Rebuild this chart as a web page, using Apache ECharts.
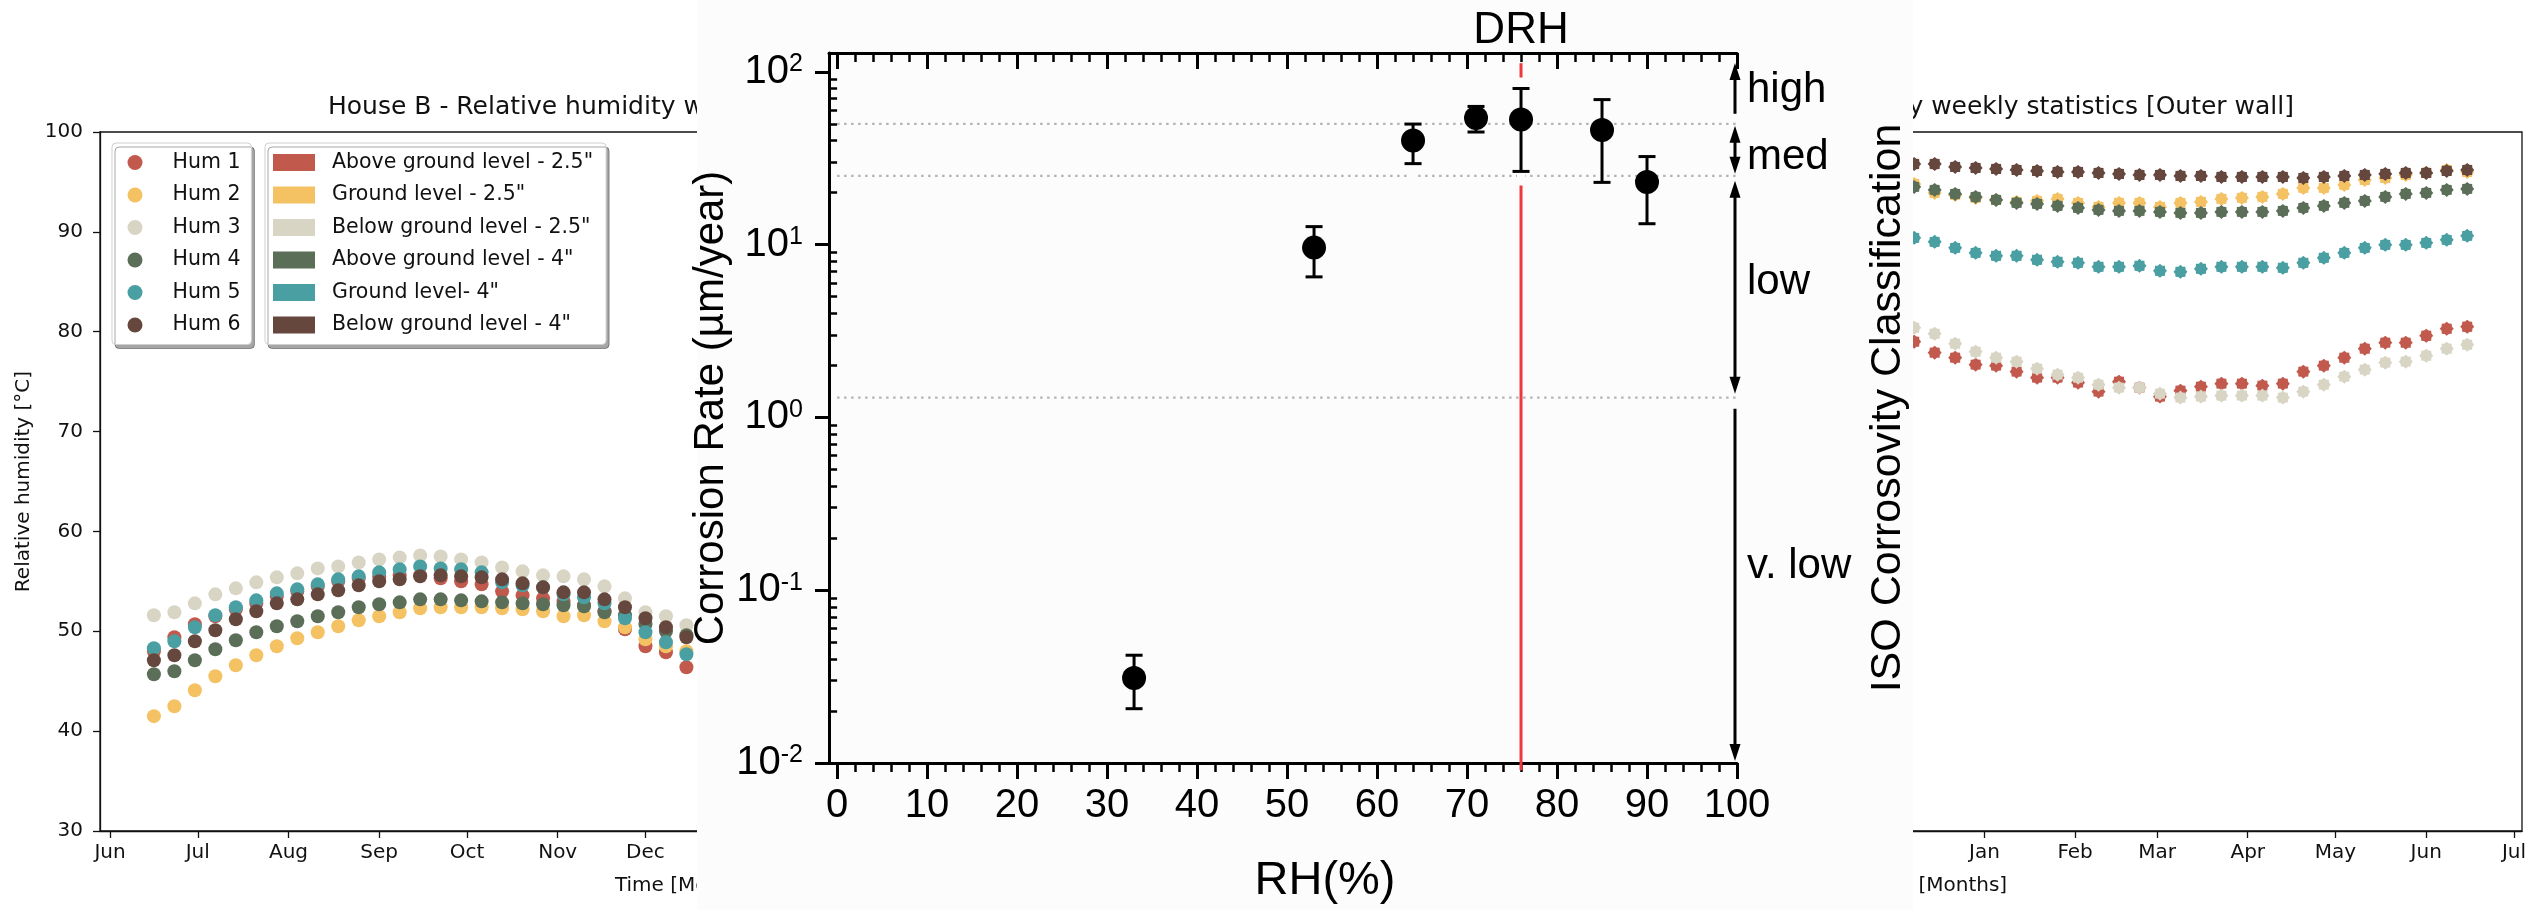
<!DOCTYPE html>
<html><head><meta charset="utf-8">
<script src="https://cdn.jsdelivr.net/npm/echarts@6/dist/echarts.min.js"></script>
<style>html,body{margin:0;padding:0;background:#fff}#c{width:2534px;height:910px}</style>
</head><body><div id="c"></div>
<script>
// ================= DATA: background humidity chart (two subplots) =================
const leftTitle = 'House B - Relative humidity weekly statistics [Inner wall]';
const rightTitle = 'House B - Relative humidity weekly statistics [Outer wall]';
const monthNames = ['Jan','Feb','Mar','Apr','May','Jun','Jul','Aug','Sep','Oct','Nov','Dec'];
const monthTicks = ['2021-06-01','2021-07-01','2021-08-01','2021-09-01','2021-10-01','2021-11-01','2021-12-01',
  '2022-01-01','2022-02-01','2022-03-01','2022-04-01','2022-05-01','2022-06-01','2022-07-01'];
const humNames = ['Hum 1','Hum 2','Hum 3','Hum 4','Hum 5','Hum 6'];
const locationNames = ['Above ground level - 2.5"','Ground level - 2.5"','Below ground level - 2.5"',
  'Above ground level - 4"','Ground level- 4"','Below ground level - 4"'];

const innerDates = ['2021-06-16','2021-06-23','2021-06-30','2021-07-07','2021-07-14','2021-07-21','2021-07-28',
  '2021-08-04','2021-08-11','2021-08-18','2021-08-25','2021-09-01','2021-09-08','2021-09-15','2021-09-22',
  '2021-09-29','2021-10-06','2021-10-13','2021-10-20','2021-10-27','2021-11-03','2021-11-10','2021-11-17',
  '2021-11-24','2021-12-01','2021-12-08','2021-12-15'];
const inner1 = [48.0,49.4,50.7,51.5,52.2,52.8,53.5,54.0,54.5,55.0,55.3,55.5,55.6,55.6,55.3,55.0,54.7,54.0,53.6,53.3,53.0,52.6,52.0,50.2,48.5,47.9,46.4];
const inner2 = [41.5,42.5,44.1,45.5,46.6,47.6,48.5,49.3,49.9,50.5,51.1,51.5,51.9,52.3,52.4,52.4,52.4,52.3,52.2,52.0,51.5,51.6,51.0,50.4,49.2,48.5,48.0];
const inner3 = [51.6,51.9,52.8,53.7,54.3,54.9,55.4,55.8,56.3,56.5,56.9,57.2,57.4,57.6,57.5,57.2,56.9,56.4,56.0,55.6,55.5,55.2,54.5,53.3,51.9,51.5,50.6];
const inner4 = [45.7,46.0,47.1,48.2,49.1,49.9,50.5,51.0,51.5,51.9,52.4,52.7,52.9,53.2,53.2,53.1,53.0,52.9,52.8,52.7,52.6,52.5,51.9,51.6,50.7,50.0,49.6];
const inner5 = [48.3,49.0,50.4,51.6,52.4,53.1,53.8,54.2,54.7,55.2,55.5,55.9,56.2,56.5,56.3,56.2,55.9,54.9,54.6,54.4,53.7,53.4,52.8,51.3,49.9,48.9,47.7];
const inner6 = [47.1,47.6,49.0,50.1,51.2,52.0,52.8,53.2,53.7,54.1,54.6,55.0,55.2,55.5,55.6,55.5,55.4,55.2,54.8,54.4,53.9,53.9,53.2,52.4,51.3,50.4,49.4];

const outerDates = ['2021-12-08','2021-12-15','2021-12-22','2021-12-29','2022-01-05','2022-01-12','2022-01-19',
  '2022-01-26','2022-02-02','2022-02-09','2022-02-16','2022-02-23','2022-03-02','2022-03-09','2022-03-16',
  '2022-03-23','2022-03-30','2022-04-06','2022-04-13','2022-04-20','2022-04-27','2022-05-04','2022-05-11',
  '2022-05-18','2022-05-25','2022-06-01','2022-06-08','2022-06-15'];
const outer1 = [79.0,77.9,77.4,76.7,76.6,76.0,75.4,75.4,74.9,74.0,75.0,74.4,73.5,74.1,74.5,74.8,74.8,74.6,74.8,76.0,76.6,77.4,78.3,78.9,78.9,79.6,80.3,80.5];
const outer2 = [94.8,93.9,93.7,93.4,93.2,93.0,93.1,93.3,92.9,92.5,92.9,92.9,92.5,92.9,93.0,93.3,93.4,93.5,93.8,94.4,94.4,94.7,95.2,95.4,95.7,95.9,96.2,96.0];
const outer3 = [80.4,79.8,78.8,78.0,77.4,77.0,76.3,75.7,75.4,74.7,74.4,74.4,73.8,73.4,73.5,73.6,73.6,73.6,73.4,74.0,74.7,75.5,76.2,76.9,77.0,77.6,78.3,78.7];
const outer4 = [94.5,94.2,93.8,93.5,93.2,92.9,92.8,92.6,92.4,92.2,92.1,92.1,92.0,91.9,91.9,92.0,92.0,92.0,92.1,92.4,92.6,92.9,93.1,93.5,93.8,93.9,94.2,94.3];
const outer5 = [89.4,89.0,88.4,87.9,87.6,87.6,87.2,87.0,86.9,86.5,86.5,86.6,86.1,86.0,86.3,86.5,86.5,86.5,86.4,86.9,87.4,87.9,88.4,88.7,88.7,88.9,89.2,89.6];
const outer6 = [96.8,96.8,96.5,96.4,96.3,96.2,96.1,96.0,96.0,95.9,95.8,95.7,95.7,95.6,95.6,95.5,95.5,95.5,95.5,95.4,95.5,95.6,95.7,95.8,95.9,95.9,96.1,96.2];

// ================= DATA: overlaid corrosion-rate figure =================
const rhValues   = [33, 53, 64, 71, 76, 85, 90];
const rateValues = [0.031, 9.6, 40, 54, 53, 46, 23];
const rateLow    = [0.0206, 6.5, 29.4, 44.8, 26.5, 22.9, 13.2];
const rateHigh   = [0.042, 12.7, 49.8, 63, 80, 69, 32.3];
const isoThresholds = [1.3, 25, 50];
const isoClasses = ['v. low', 'low', 'med', 'high'];
const drhValue = 76;
const drhSpan = [0.0091, 112];      // vertical extent of the DRH line (rate units)
const rhTickLabels = [0,10,20,30,40,50,60,70,80,90,100];
const rateDecades = [0.01, 0.1, 1, 10, 100];

// ================= helpers / layout =================
const MPL = 'DejaVu Sans';
const ARIAL = 'Liberation Sans, Arial, Helvetica, sans-serif';
const INK = '#111';
const DAY = 864e5;
const ts = s => { const p = s.split('-').map(Number); return new Date(p[0], p[1]-1, p[2]).getTime(); };
const monthTs = monthTicks.map(ts);
const tMin = ts('2021-06-01') - 3.42*DAY;
const tMax = ts('2022-07-01') + 2.73*DAY;
const PX_PER_DAY = 2.926;
const subW = (tMax - tMin)/DAY*PX_PER_DAY;
const colors = ['#c2594d','#f4c163','#d9d5c4','#5b6f58','#4a9fa2','#66473d'];
const innerSets = [inner1,inner2,inner3,inner4,inner5,inner6];
const outerSets = [outer1,outer2,outer3,outer4,outer5,outer6];

// star-like marker for the outer-wall subplot
const starPts = [];
for (let k = 0; k < 16; k++) {
  const a = Math.PI*2*k/16 - Math.PI/2, r = (k % 2 === 0) ? 1 : 0.8;
  starPts.push((r*Math.cos(a)).toFixed(3) + ',' + (r*Math.sin(a)).toFixed(3));
}
const starPath = 'path://M' + starPts.join('L') + 'Z';

// overlay geometry
const OV = {left: 829, top: 53, right: 1737, bottom: 772};
const OV_BG = '#fcfcfc';
const yMinLog = 0.00999, yMaxLog = Math.pow(10, 2 + 19/175);
const minorX = []; for (let v = 2; v < 100; v += 2) if (v % 10) minorX.push(v);
const minorY = []; rateDecades.slice(0, 4).forEach(d => { for (let m = 2; m <= 9; m++) minorY.push(+(d*m).toPrecision(3)); });
// arrow style per class (same order as isoClasses): head flags, end gaps (px), label offset (px)
const arrowStyle = [
  {headTop:false, headBottom:true,  gapTop:11, gapBottom:2,  dy:-18},
  {headTop:true,  headBottom:true,  gapTop:5,  gapBottom:4,  dy:-5},
  {headTop:true,  headBottom:true,  gapTop:2,  gapBottom:2,  dy:8},
  {headTop:true,  headBottom:false, gapTop:10, gapBottom:10, dy:2}
];
const classEdges = [yMinLog].concat(isoThresholds, [yMaxLog]);

function monthAxis(gridIndex, name) {
  return {
    type: 'value', gridIndex, min: tMin, max: tMax,
    name, nameLocation: 'middle', nameGap: 45,
    nameTextStyle: {fontFamily: MPL, fontSize: 20, color: INK},
    axisLine: {show: true, onZero: false, lineStyle: {color: INK, width: 1.3}},
    axisTick: {show: true, customValues: monthTs, length: 7, lineStyle: {color: INK, width: 1.3}},
    axisLabel: {customValues: monthTs, formatter: v => monthNames[new Date(v).getMonth()],
      fontFamily: MPL, fontSize: 20, color: INK, margin: 12},
    splitLine: {show: false}
  };
}
function rhAxis(gridIndex, name) {
  return {
    type: 'value', gridIndex, min: 30, max: 100, interval: 10,
    name, nameLocation: 'middle', nameGap: 66,
    nameTextStyle: {fontFamily: MPL, fontSize: 20, color: INK},
    axisLine: {show: true, onZero: false, lineStyle: {color: INK, width: 1.3}},
    axisTick: {show: true, length: 7, lineStyle: {color: INK, width: 1.3}},
    axisLabel: {fontFamily: MPL, fontSize: 20, color: INK, margin: 17},
    splitLine: {show: false}
  };
}
const ovLine = {color: '#000', width: 3};

const series = [];
humNames.forEach((n, i) => series.push({
  name: n, type: 'scatter', xAxisIndex: 0, yAxisIndex: 0, symbol: 'circle', symbolSize: 14,
  itemStyle: {color: colors[i], opacity: 1}, z: 2 + i*0.01,
  data: innerDates.map((d, k) => [ts(d), innerSets[i][k]])
}));
locationNames.forEach((n, i) => series.push({
  name: n, type: 'scatter', xAxisIndex: 1, yAxisIndex: 1, symbol: starPath, symbolSize: 14,
  itemStyle: {color: colors[i], opacity: 1}, z: 2 + i*0.01,
  data: outerDates.map((d, k) => [ts(d), outerSets[i][k]])
}));
// ISO threshold dotted lines
isoThresholds.forEach(v => series.push({
  type: 'line', xAxisIndex: 2, yAxisIndex: 2, z: 22, silent: true, symbol: 'none',
  lineStyle: {color: '#b4b4b4', type: [2.5, 4.5], width: 2.2},
  data: [[rhTickLabels[0], v], [rhTickLabels[rhTickLabels.length - 1], v]]
}));
// DRH red line with its label
series.push({
  type: 'line', xAxisIndex: 2, yAxisIndex: 2, z: 22, silent: true, clip: false,
  symbol: 'circle', symbolSize: 1, showSymbol: true, itemStyle: {color: '#ee3a3a'},
  lineStyle: {color: '#ee3a3a', width: 3},
  data: [
    {value: [drhValue, drhSpan[0]]},
    {value: [drhValue, drhSpan[1]],
     label: {show: true, position: 'top', distance: 10, formatter: 'DRH',
             fontFamily: ARIAL, fontSize: 44, color: '#000'}}
  ]
});
// error bars
series.push({
  type: 'custom', xAxisIndex: 2, yAxisIndex: 2, z: 25, clip: false, silent: true,
  data: rhValues.map((x, i) => [x, rateLow[i], rateHigh[i]]),
  encode: {x: 0, y: [1, 2]},
  renderItem(params, api) {
    const x = api.value(0);
    const lo = api.coord([x, api.value(1)]), hi = api.coord([x, api.value(2)]);
    const cap = 8.5;
    return {type: 'group', children: [
      {type: 'rect', shape: {x: lo[0]-4, y: hi[1]-11, width: 8, height: lo[1]-hi[1]+25}, style: {fill: OV_BG}},
      {type: 'line', shape: {x1: lo[0], y1: lo[1], x2: hi[0], y2: hi[1]}, style: {stroke: '#000', lineWidth: 3}},
      {type: 'line', shape: {x1: lo[0]-cap, y1: lo[1], x2: lo[0]+cap, y2: lo[1]}, style: {stroke: '#000', lineWidth: 3}},
      {type: 'line', shape: {x1: hi[0]-cap, y1: hi[1], x2: hi[0]+cap, y2: hi[1]}, style: {stroke: '#000', lineWidth: 3}}
    ]};
  }
});
// ISO class arrows + labels
series.push({
  type: 'custom', xAxisIndex: 2, yAxisIndex: 2, z: 25, clip: false, silent: true,
  data: isoClasses.map((c, i) => [100, classEdges[i], classEdges[i+1]]),
  encode: {x: 0, y: [1, 2]},
  renderItem(params, api) {
    const st = arrowStyle[params.dataIndex];
    const pLo = api.coord([api.value(0), api.value(1)]), pHi = api.coord([api.value(0), api.value(2)]);
    const x = pLo[0] - 2;
    const yTop = pHi[1] + st.gapTop, yBot = pLo[1] - st.gapBottom;
    const hl = 17, hw = 5.5;
    const children = [{type: 'line', shape: {x1: x, y1: st.headTop ? yTop + hl - 2 : yTop, x2: x, y2: st.headBottom ? yBot - hl + 2 : yBot},
      style: {stroke: '#000', lineWidth: 3}}];
    if (st.headTop) children.push({type: 'polygon', shape: {points: [[x, yTop], [x-hw, yTop+hl], [x+hw, yTop+hl]]}, style: {fill: '#000'}});
    if (st.headBottom) children.push({type: 'polygon', shape: {points: [[x, yBot], [x-hw, yBot-hl], [x+hw, yBot-hl]]}, style: {fill: '#000'}});
    children.push({type: 'text', x: x + 12, y: (yTop + yBot)/2 + st.dy,
      style: {text: isoClasses[params.dataIndex], fontFamily: ARIAL, fontSize: 42, fill: '#000',
              align: 'left', verticalAlign: 'middle'}});
    return {type: 'group', children};
  }
});
// corrosion rate points
series.push({
  name: 'Corrosion Rate', type: 'scatter', xAxisIndex: 2, yAxisIndex: 2, z: 30, silent: true,
  symbol: 'circle', symbolSize: 24, itemStyle: {color: '#000', opacity: 1},
  data: rhValues.map((x, i) => [x, rateValues[i]])
});

const legendCommon = {
  orient: 'vertical', top: 143, itemGap: 11.5, selectedMode: false,
  backgroundColor: '#fff', borderColor: '#cfcfcf', borderWidth: 1, borderRadius: 4,
  shadowColor: 'rgba(0,0,0,0.35)', shadowBlur: 0, shadowOffsetX: 3, shadowOffsetY: 4
};

const option = {
  animation: false,
  backgroundColor: '#fff',
  title: [
    {text: leftTitle, left: 328, top: 95, padding: 0, z: 6,
     textStyle: {fontFamily: MPL, fontSize: 25, fontWeight: 'normal', color: INK}},
    {text: rightTitle, right: 240, top: 95, padding: 0, z: 6,
     textStyle: {fontFamily: MPL, fontSize: 25, fontWeight: 'normal', color: INK}}
  ],
  legend: [
    Object.assign({}, legendCommon, {data: humNames, left: 112, padding: [9, 11, 9, 15.5],
      itemWidth: 25, itemHeight: 15, icon: 'circle',
      textStyle: {fontFamily: MPL, fontSize: 20.5, lineHeight: 20, color: INK, padding: [0, 0, 0, 20]}}),
    Object.assign({}, legendCommon, {data: locationNames, left: 265, padding: [9, 13, 9, 8],
      itemWidth: 42, itemHeight: 17, icon: 'rect',
      textStyle: {fontFamily: MPL, fontSize: 20.5, lineHeight: 20, color: INK, padding: [0, 0, 0, 12]}})
  ],
  grid: [
    {left: 100, top: 132, width: subW, height: 699, show: true, borderColor: INK, borderWidth: 1.3},
    {left: 2522 - subW, top: 132, width: subW, height: 699, show: true, borderColor: INK, borderWidth: 1.3},
    {left: OV.left, top: OV.top, width: OV.right - OV.left, height: OV.bottom - OV.top, show: false}
  ],
  xAxis: [
    monthAxis(0, 'Time [Months]'),
    monthAxis(1, 'Time [Months]'),
    {type: 'value', gridIndex: 2, min: -0.9, max: 100, position: 'bottom', z: 20,
     name: 'RH(%)', nameLocation: 'middle', nameGap: 95,
     nameTextStyle: {fontFamily: ARIAL, fontSize: 47, color: '#000', padding: [0, 0, 0, 84]},
     axisLine: {show: true, onZero: false, lineStyle: ovLine},
     axisTick: {show: true, customValues: rhTickLabels, length: 16, lineStyle: ovLine},
     axisLabel: {customValues: rhTickLabels, fontFamily: ARIAL, fontSize: 40, color: '#000', margin: 23},
     splitLine: {show: false}},
    {type: 'value', gridIndex: 2, min: -0.9, max: 100, position: 'bottom', z: 20,
     axisLine: {show: false}, axisLabel: {show: false}, splitLine: {show: false},
     axisTick: {show: true, customValues: minorX, length: 9, lineStyle: {color: '#000', width: 2.5}}},
    {type: 'value', gridIndex: 2, min: -0.9, max: 100, position: 'top', z: 20,
     axisLine: {show: true, onZero: false, lineStyle: ovLine}, axisLabel: {show: false}, splitLine: {show: false},
     axisTick: {show: true, inside: true, customValues: rhTickLabels, length: 16, lineStyle: ovLine}},
    {type: 'value', gridIndex: 2, min: -0.9, max: 100, position: 'top', z: 20,
     axisLine: {show: false}, axisLabel: {show: false}, splitLine: {show: false},
     axisTick: {show: true, inside: true, customValues: minorX, length: 9, lineStyle: {color: '#000', width: 2.5}}}
  ],
  yAxis: [
    rhAxis(0, 'Relative humidity [°C]'),
    rhAxis(1, ''),
    {type: 'log', gridIndex: 2, min: yMinLog, max: yMaxLog, position: 'left', z: 20,
     name: 'Corrosion Rate (µm/year)', nameLocation: 'middle', nameGap: 90,
     nameTextStyle: {fontFamily: ARIAL, fontSize: 42, color: '#000'},
     axisLine: {show: true, onZero: false, lineStyle: ovLine},
     axisTick: {show: true, customValues: rateDecades, length: 14, lineStyle: ovLine},
     axisLabel: {customValues: rateDecades, margin: 26,
       formatter: v => '{b|10}{s|' + Math.round(Math.log10(v)) + '}',
       rich: {b: {fontFamily: ARIAL, fontSize: 40, color: '#000', lineHeight: 40, padding: [10, 0, 0, 0], verticalAlign: 'bottom'},
              s: {fontFamily: ARIAL, fontSize: 25, color: '#000', lineHeight: 25, verticalAlign: 'top'}}},
     splitLine: {show: false}},
    {type: 'log', gridIndex: 2, min: yMinLog, max: yMaxLog, position: 'left', z: 20,
     axisLine: {show: false}, axisLabel: {show: false}, splitLine: {show: false},
     axisTick: {show: true, customValues: minorY, length: 8, lineStyle: {color: '#000', width: 2.5}}},
    {type: 'value', gridIndex: 2, min: 0, max: 1, position: 'right', z: 20,
     name: 'ISO Corrosovity Classification', nameLocation: 'middle', nameGap: 130, nameRotate: 90,
     nameTextStyle: {fontFamily: ARIAL, fontSize: 43, color: '#000'},
     axisLine: {show: false}, axisTick: {show: false}, axisLabel: {show: false}, splitLine: {show: false}}
  ],
  graphic: [
    {type: 'rect', z: 10, silent: true, shape: {x: 697, y: 0, width: 1216, height: 910},
     style: {fill: OV_BG}}
  ],
  series
};

const chart = echarts.init(document.getElementById('c'), null, {renderer: 'canvas'});
chart.setOption(option);
</script>
</body></html>
